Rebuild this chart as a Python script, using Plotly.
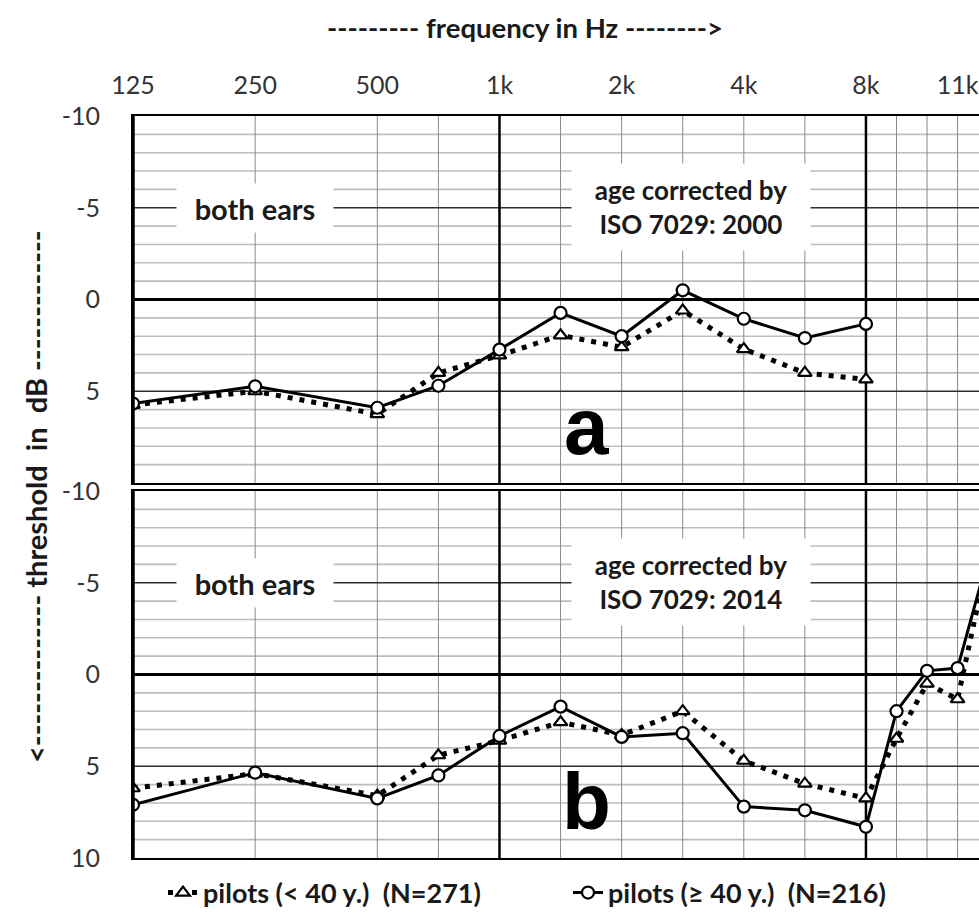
import numpy as np
import plotly.graph_objects as go

# ---------------- data ----------------
# audiogram axis: frequency (Hz) -> slot on the chart's category-like axis
AXIS_FREQS = [125, 250, 500, 750, 1000, 1500, 2000, 3000, 4000, 6000, 8000, 9000, 10000, 11200, 12500]
AXIS_UNITS = [0, 2, 4, 5, 6, 7, 8, 9, 10, 11, 12, 12.5, 13, 13.5, 14]

tick_freqs = [125, 250, 500, 1000, 2000, 4000, 8000, 11200]
tick_labels = ["125", "250", "500", "1k", "2k", "4k", "8k", "11k"]

# panel a: age corrected by ISO 7029:2000
freq_a = [125, 250, 500, 750, 1000, 1500, 2000, 3000, 4000, 6000, 8000]
a_young = [5.75, 5.0, 6.25, 4.0, 3.05, 1.95, 2.6, 0.6, 2.7, 4.0, 4.35]
a_old = [5.67, 4.73, 5.9, 4.7, 2.73, 0.73, 2.0, -0.5, 1.05, 2.1, 1.33]

# panel b: age corrected by ISO 7029:2014
freq_b = [125, 250, 500, 750, 1000, 1500, 2000, 3000, 4000, 6000, 8000, 9000, 10000, 11200, 12500]
b_young = [6.2, 5.4, 6.6, 4.4, 3.6, 2.6, 3.3, 2.0, 4.7, 5.95, 6.75, 3.5, 0.5, 1.35, -6.4]
b_old = [7.1, 5.35, 6.75, 5.5, 3.35, 1.75, 3.4, 3.2, 7.2, 7.4, 8.3, 2.0, -0.2, -0.35, -6.4]

name_young = "pilots (< 40 y.)  (N=271)"
name_old = "pilots (≥ 40 y.)  (N=216)"


def xpos(f):
    return np.interp(f, AXIS_FREQS, AXIS_UNITS)


FONT = "Lato"
W, H = 979, 923
BOT = 858  # page y of plot bottom
L, R, T = 133, 0, 116
B = H - BOT
plot_w = W - L - R
plot_h = H - T - B
unit_px = 61.08
x_range = [0, plot_w / unit_px]


def py(page_y):
    return (BOT - page_y) / plot_h


def px(page_x):
    return (page_x - L) / plot_w


dom_b = [0, py(491)]
dom_a = [py(483), 1]

fig = go.Figure()


def add_series(freqs, young, old, xa, ya, legend):
    fig.add_trace(go.Scatter(
        x=xpos(freqs), y=young, mode="lines+markers", name=name_young,
        xaxis=xa, yaxis=ya, showlegend=legend, legend="legend",
        line=dict(color="black", width=5, dash="5px,7px"),
        marker=dict(symbol="triangle-up", size=12, color="white",
                    line=dict(width=2.2, color="black")),
    ))
    fig.add_trace(go.Scatter(
        x=xpos(freqs), y=old, mode="lines+markers", name=name_old,
        xaxis=xa, yaxis=ya, showlegend=legend, legend="legend2",
        line=dict(color="black", width=3),
        marker=dict(symbol="circle", size=12, color="white",
                    line=dict(width=2.2, color="black")),
    ))


add_series(freq_a, a_young, a_old, "x", "y", True)
add_series(freq_b, b_young, b_old, "x2", "y2", False)

grid_freqs = AXIS_FREQS[:-1]
grid_pos = [float(xpos(f)) for f in grid_freqs]
grid_text = [tick_labels[tick_freqs.index(f)] if f in tick_freqs else "" for f in grid_freqs]

y_vals = list(range(-10, 11))
y_text_a = [str(v) if v % 5 == 0 and v != 10 else "" for v in y_vals]
y_text_b = [str(v) if v % 5 == 0 else "" for v in y_vals]

TICKFONT = dict(family=FONT, size=25, color="#333333")
LEGFONT = dict(family=FONT, size=27, color="#1a1a1a", weight="bold")
xcommon = dict(range=x_range, showgrid=False,
               tickmode="array", tickvals=grid_pos, zeroline=False,
               showline=True, linecolor="black", linewidth=2, mirror=True,
               ticks="", fixedrange=True)
ycommon = dict(range=[10, -10], showgrid=False,
               tickmode="array", tickvals=y_vals, zeroline=False,
               showline=True, linecolor="black", linewidth=2, mirror=True,
               ticks="", ticklabelstandoff=26, tickfont=TICKFONT, fixedrange=True)

fig.update_layout(
    width=W, height=H,
    margin=dict(l=L, r=R, t=T, b=B, autoexpand=False),
    paper_bgcolor="white", plot_bgcolor="white",
    font=dict(family=FONT, color="#1a1a1a"),
    xaxis=dict(**xcommon, anchor="y", side="top", ticktext=grid_text,
               ticklabelstandoff=10, tickfont=TICKFONT),
    yaxis=dict(**ycommon, domain=dom_a, anchor="x", ticktext=y_text_a),
    xaxis2=dict(**xcommon, anchor="y2", showticklabels=False,
                ticktext=[""] * len(grid_pos)),
    yaxis2=dict(**ycommon, domain=dom_b, anchor="x2", ticktext=y_text_b),
    legend=dict(orientation="h", x=px(163), y=py(893), xanchor="left", yanchor="middle",
                font=LEGFONT, bgcolor="rgba(0,0,0,0)"),
    legend2=dict(orientation="h", x=px(568), y=py(893), xanchor="left", yanchor="middle",
                 font=LEGFONT, bgcolor="rgba(0,0,0,0)"),
    showlegend=True,
)

# grid drawn as shapes (in order: minor, vertical, major, thick)
shapes = []
for xa, ya in (("x", "y"), ("x2", "y2")):
    for yv in y_vals:
        if yv % 5 != 0:
            shapes.append(dict(type="line", xref=f"{xa} domain", yref=ya,
                               x0=0, x1=1, y0=yv, y1=yv,
                               line=dict(color="#bdbdbd", width=1.6), layer="below"))
    for f in grid_freqs:
        if f not in (1000, 8000):
            shapes.append(dict(type="line", xref=xa, yref=f"{ya} domain",
                               x0=float(xpos(f)), x1=float(xpos(f)), y0=0, y1=1,
                               line=dict(color="#8a8a8a", width=1), layer="below"))
    for yv in (-5, 5):
        shapes.append(dict(type="line", xref=f"{xa} domain", yref=ya,
                           x0=0, x1=1, y0=yv, y1=yv,
                           line=dict(color="#2e2e2e", width=1.5), layer="below"))
    for f in (1000, 8000):
        shapes.append(dict(type="line", xref=xa, yref=f"{ya} domain",
                           x0=float(xpos(f)), x1=float(xpos(f)), y0=0, y1=1,
                           line=dict(color="black", width=2.5), layer="below"))
    shapes.append(dict(type="line", xref=f"{xa} domain", yref=ya,
                       x0=0, x1=1, y0=0, y1=0,
                       line=dict(color="black", width=3), layer="below"))
    shapes.append(dict(type="line", xref=f"{xa} domain", yref=f"{ya} domain",
                       x0=0, x1=0, y0=0, y1=1,
                       line=dict(color="black", width=3.5), layer="above"))
fig.update_layout(shapes=shapes)

ann = []
for xa, ya, label, year in (("x", "y", "a", "2000"), ("x2", "y2", "b", "2014")):
    ann.append(dict(x=float(xpos(250)), y=-5, xref=xa, yref=ya, text="<b>both ears</b>",
                    showarrow=False, bgcolor="white", width=154, height=46,
                    xanchor="center", yanchor="middle",
                    font=dict(family=FONT, size=29, color="#1a1a1a")))
    ann.append(dict(x=9.13, y=-5.05, xref=xa, yref=ya,
                    text=f"<b>age corrected by<br>ISO 7029: {year}</b>",
                    showarrow=False, bgcolor="white", width=236, height=84,
                    xanchor="center", yanchor="middle",
                    font=dict(family=FONT, size=26, color="#1a1a1a")))
    ann.append(dict(x=7.42, y=6.9, xref=xa, yref=ya, text=f"<b>{label}</b>",
                    showarrow=False, xanchor="center", yanchor="middle",
                    font=dict(family="Liberation Sans", size=80, color="black")))

ann.append(dict(x=px(525), y=py(28), xref="paper", yref="paper",
                xanchor="center", yanchor="middle",
                text="<b>--------- frequency in Hz --------></b>", showarrow=False,
                font=dict(family=FONT, size=27.5, color="#1a1a1a")))
ann.append(dict(x=px(35), y=py(497), xref="paper", yref="paper",
                xanchor="center", yanchor="middle",
                text="<b><-------------- threshold  in  dB -------------</b>",
                textangle=-90, showarrow=False,
                font=dict(family=FONT, size=29, color="#1a1a1a")))
fig.update_layout(annotations=ann)

fig.write_html("out.html",
               config={"displayModeBar": False, "staticPlot": True},
               post_script="document.body.style.margin='0';document.body.style.overflow='hidden';")
